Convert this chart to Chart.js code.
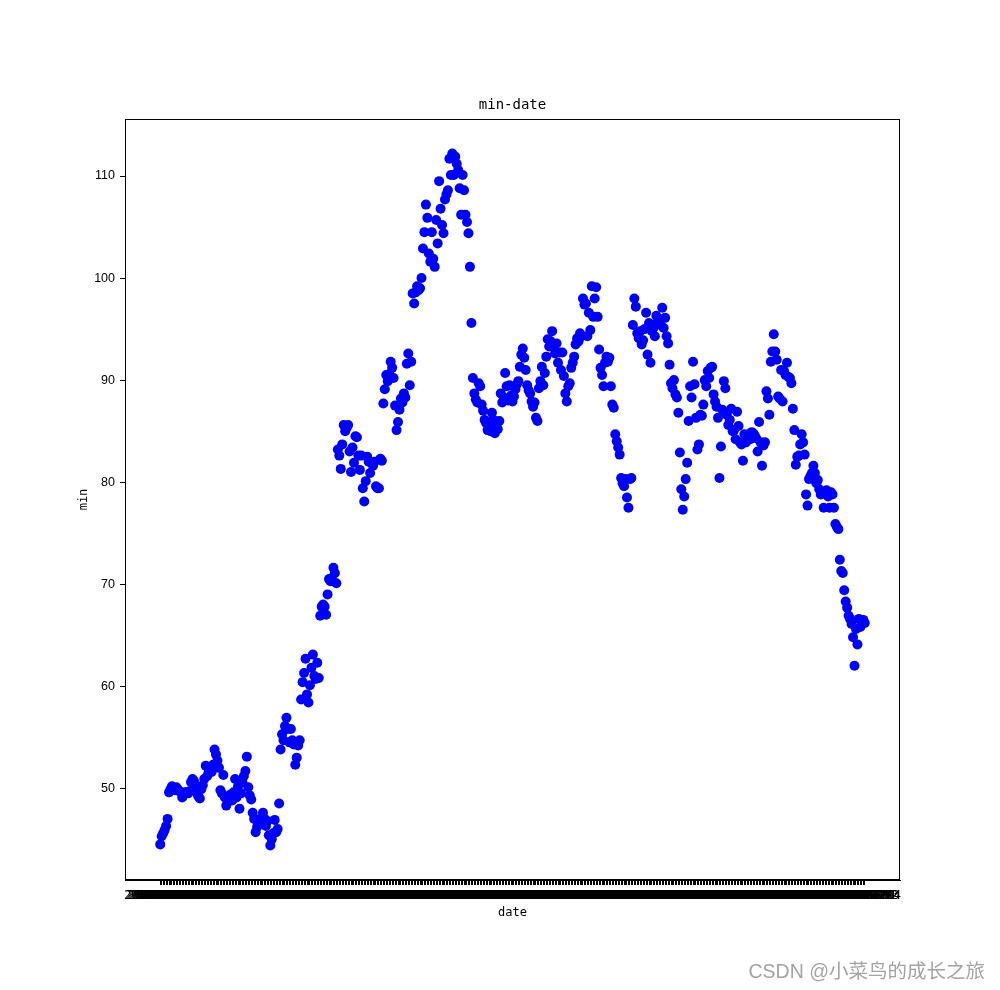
<!DOCTYPE html>
<html><head><meta charset="utf-8">
<script src="https://cdn.jsdelivr.net/npm/chart.js@4.4.1/dist/chart.umd.min.js"></script>
<style>
html,body{margin:0;padding:0;background:#fff;}
#wrap{position:relative;width:1000px;height:990px;overflow:hidden;}
#c{position:absolute;left:0;top:0;}
#wm{position:absolute;right:15px;top:957px;font-family:"Liberation Sans","Noto Sans CJK SC";font-size:19.5px;line-height:28px;color:#a3a3a3;white-space:nowrap;}
</style></head><body>
<div id="wrap"><canvas id="c" width="1000" height="990"></canvas><div id="wm">CSDN @小菜鸟的成长之旅</div></div>
<script>
// daily minimum values
const minValues = [
44.5,45.3,45.6,45.9,46.3,47.0,49.6,49.9,50.2,50.0,
49.8,50.1,49.9,49.7,49.6,49.1,49.4,49.6,49.6,49.5,
49.7,50.6,50.9,50.7,50.2,49.5,49.2,49.0,49.9,50.3,
50.9,52.2,51.2,51.6,51.7,51.6,52.3,53.8,53.3,52.7,
52.0,49.8,49.5,51.3,49.1,48.3,48.7,49.0,49.4,48.8,
49.6,50.9,49.1,50.2,48.0,49.5,50.6,51.2,51.7,53.1,
50.1,49.3,48.9,47.6,47.0,45.7,46.2,46.8,47.0,46.6,
47.6,47.0,46.3,46.8,45.4,44.4,45.0,45.6,46.9,45.7,
46.0,48.5,53.8,55.3,54.7,56.1,56.9,55.8,54.5,55.8,
54.7,54.3,52.3,53.0,54.2,54.7,58.7,60.4,61.3,62.7,
59.2,58.4,60.1,61.8,63.1,61.0,60.7,62.3,60.8,
66.9,67.8,68.0,67.8,67.0,69.0,70.5,70.3,70.6,71.6,71.1,70.1,
83.2,82.6,81.3,83.7,85.6,85.0,85.3,85.6,83.0,81.0,83.4,81.9,84.5,84.4,82.6,81.2,82.6,79.4,78.1,80.1,82.5,82.0,80.9,81.9,81.6,82.0,79.6,79.4,79.4,82.3,82.1,
87.7,89.1,90.5,89.9,90.6,91.8,91.2,90.2,87.5,85.1,85.9,87.1,88.2,87.8,88.7,88.3,91.6,92.6,89.5,91.8,
98.5,97.5,98.6,99.2,98.8,99.0,100.0,
102.9,104.5,107.2,105.9,102.4,101.6,104.5,101.9,101.1,105.7,103.4,109.5,106.8,105.2,104.4,107.7,108.2,108.6,111.7,110.1,112.2,110.1,111.9,111.2,110.6,108.8,106.2,110.1,108.6,106.2,105.5,104.4,101.1,95.6,
90.2,88.7,88.1,87.8,89.7,89.4,87.6,87.0,86.1,85.8,
85.1,85.4,85.0,86.8,86.1,84.8,85.6,85.2,86.0,88.7,
87.8,88.3,90.7,89.4,88.0,89.5,88.5,87.9,88.4,89.1,
89.6,89.9,91.3,92.5,93.1,92.2,91.0,89.5,89.0,88.7,
87.9,87.4,87.8,86.3,86.0,89.2,89.9,91.3,89.5,90.7,
92.3,94.0,93.3,93.8,94.8,93.3,92.6,93.6,91.7,92.7,
91.0,92.7,90.4,88.7,87.9,89.4,89.7,91.2,91.7,92.3,
93.5,94.1,93.8,94.6,94.3,98.0,97.4,97.5,94.3,96.6,
94.9,99.2,96.2,98.0,99.1,96.2,93.0,
91.2,90.5,89.4,91.7,92.3,91.8,92.2,89.4,87.6,87.3,
84.7,84.0,83.4,82.7,80.4,79.9,79.6,80.3,78.5,77.5,
80.3,80.4,95.4,98.0,97.2,94.6,94.1,94.8,93.5,93.9,
95.0,96.6,92.5,95.6,91.7,94.8,95.1,94.3,96.3,95.8,
96.0,95.4,97.1,95.1,96.1,94.3,93.6,91.5,89.7,89.2,
90.0,88.6,88.3,86.8,82.9,79.3,77.3,78.6,80.3,81.9,
86.0,89.4,88.3,
91.8,89.6,86.3,83.2,83.7,86.6,86.5,87.6,90.0,89.4,
90.9,90.2,91.2,91.3,88.6,87.9,87.4,86.3,80.4,83.5,
87.1,89.9,89.2,86.6,85.6,86.1,87.2,85.0,85.1,84.2,
86.9,85.5,83.9,83.7,82.1,84.7,83.9,84.5,84.7,84.2,
84.9,84.8,84.6,84.3,83.0,85.9,83.9,81.6,83.6,83.9,
88.9,88.2,86.6,91.8,92.8,94.5,92.8,92.0,88.4,88.2,
91.0,87.9,90.9,90.5,91.7,90.3,90.2,89.7,87.2,85.1,
81.7,82.5,82.6,83.7,84.7,83.9,82.7,78.8,77.7,80.3,
80.6,80.9,81.6,80.9,79.9,80.2,79.3,78.8,79.0,77.5,
78.9,79.2,78.6,77.5,79.0,78.8,77.5,75.9,75.6,75.4,
72.4,71.3,71.1,69.4,68.3,67.7,66.9,66.6,66.1,64.8,
62.0,65.6,64.1,66.6,65.8,66.4,66.5,66.2
];
const yTickValues = [50, 60, 70, 80, 90, 100, 110];
const chartTitle = 'min-date';
const xAxisLabel = 'date';
const yAxisLabel = 'min';
const firstDate = '2020-01-02';

// category labels: consecutive trading days (weekdays)
const dateLabels = [];
{
  const d = new Date(firstDate + 'T00:00:00Z');
  while (dateLabels.length < minValues.length) {
    const wd = d.getUTCDay();
    if (wd !== 0 && wd !== 6) dateLabels.push(d.toISOString().slice(0, 10));
    d.setUTCDate(d.getUTCDate() + 1);
  }
}

const N = minValues.length;
const points = minValues.map((v, i) => ({x: i, y: v}));
const MONO = 'DejaVu Sans Mono';
const SANS = 'Liberation Sans';

const framePlugin = {
  id: 'frame',
  afterDraw(chart) {
    const {ctx, chartArea: a} = chart;
    ctx.save();
    ctx.strokeStyle = '#000';
    ctx.lineWidth = 1;
    ctx.strokeRect(Math.round(a.left) + 0.5, Math.round(a.top) + 0.5,
                   Math.round(a.right - a.left) - 1, Math.round(a.bottom - a.top) - 1);
    ctx.fillStyle = '#000';
    ctx.textAlign = 'center';
    ctx.textBaseline = 'alphabetic';
    ctx.font = '14px "' + MONO + '"';
    ctx.fillText(chartTitle, (a.left + a.right) / 2, a.top - 10);
    ctx.font = '12px "' + MONO + '"';
    ctx.textBaseline = 'middle';
    ctx.fillText(xAxisLabel, (a.left + a.right) / 2, 913);
    ctx.translate(84, (a.top + a.bottom) / 2);
    ctx.rotate(-Math.PI / 2);
    ctx.fillText(yAxisLabel, 0, 0);
    ctx.restore();
  }
};

new Chart(document.getElementById('c').getContext('2d'), {
  type: 'scatter',
  data: {datasets: [{
    data: points,
    backgroundColor: '#0000ff',
    borderColor: '#0000ff',
    borderWidth: 0,
    pointRadius: 5,
    pointHoverRadius: 5
  }]},
  options: {
    responsive: false,
    animation: false,
    devicePixelRatio: 1,
    events: [],
    layout: {padding: {left: 0, right: 100, top: 119, bottom: 0}},
    plugins: {legend: {display: false}, tooltip: {enabled: false}, title: {display: false}},
    scales: {
      x: {
        type: 'linear',
        min: -0.05 * (N - 1),
        max: 1.05 * (N - 1),
        afterBuildTicks: s => { s.ticks = dateLabels.map((d, i) => ({value: i})); },
        afterFit: s => { s.height = 110; },
        ticks: {
          autoSkip: false, maxRotation: 0, minRotation: 0, padding: 4,
          color: '#000', font: {family: MONO, size: 12},
          callback: (v) => dateLabels[Math.round(v)]
        },
        grid: {drawOnChartArea: false, drawTicks: true, tickLength: 5, color: '#000', lineWidth: 1},
        border: {display: true, color: '#000', width: 1}
      },
      y: {
        min: 41.01,
        max: 115.59,
        afterBuildTicks: s => { s.ticks = yTickValues.map(v => ({value: v})); },
        afterFit: s => { s.width = 125; },
        ticks: {
          padding: 5, color: '#000', font: {family: SANS, size: 12.5},
          callback: v => String(v)
        },
        grid: {drawOnChartArea: false, drawTicks: true, tickLength: 5, color: '#000', lineWidth: 1},
        border: {display: true, color: '#000', width: 1}
      }
    }
  },
  plugins: [framePlugin]
});
</script>
</body></html>
